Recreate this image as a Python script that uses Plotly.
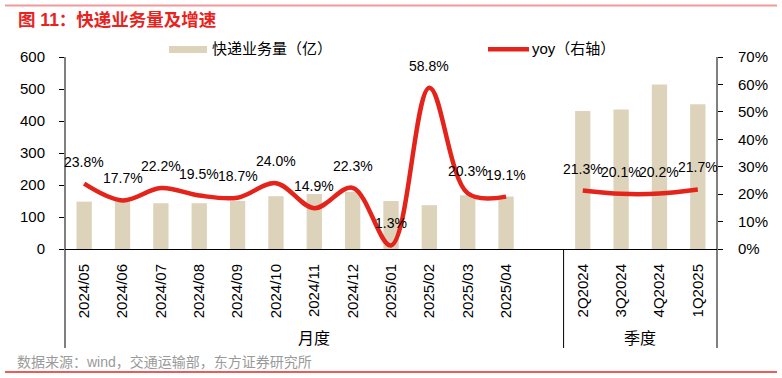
import plotly.graph_objects as go

# ---------------- data ----------------
months = ["2024/05", "2024/06", "2024/07", "2024/08", "2024/09", "2024/10",
          "2024/11", "2024/12", "2025/01", "2025/02", "2025/03", "2025/04"]
month_volume = [148, 149, 143, 143, 150, 165, 172, 179, 150, 137, 168, 164]
month_yoy = [23.8, 17.7, 22.2, 19.5, 18.7, 24.0, 14.9, 22.3, 1.3, 58.8, 20.3, 19.1]

quarters = ["2Q2024", "3Q2024", "4Q2024", "1Q2025"]
quarter_volume = [431, 436, 514, 452]
quarter_yoy = [21.3, 20.1, 20.2, 21.7]

left_ticks = [0, 100, 200, 300, 400, 500, 600]
right_ticks = [0, 10, 20, 30, 40, 50, 60, 70]
right_tick_labels = ["0%", "10%", "20%", "30%", "40%", "50%", "60%", "70%"]

title_text = "图 11：快递业务量及增速"
bar_name = "快递业务量（亿）"
line_name = "yoy（右轴）"
group_names = ["月度", "季度"]
source_text = "数据来源：wind，交通运输部，东方证券研究所"

# ---------------- layout constants ----------------
W, H = 782, 378
L, R, T, B = 65, 717, 57, 249
BAR_COLOR = "#ddd3bb"
LINE_COLOR = "#e4231b"
FONT = "Arial, 'Liberation Sans', 'Noto Sans CJK SC', sans-serif"


def px(x):
    return (x - L) / (R - L)


def py(y):
    return (B - y) / (B - T)


month_x = list(range(len(months)))
gap_x = len(months)
quarter_x = [gap_x + 1 + i for i in range(len(quarters))]
all_x = month_x + quarter_x
all_labels = months + quarters

fig = go.Figure()

fig.add_trace(go.Bar(x=month_x + quarter_x, y=month_volume + quarter_volume,
                     marker=dict(color=BAR_COLOR, line=dict(width=0)),
                     width=0.4, name=bar_name, showlegend=False, yaxis="y"))

for xs, ys in [(month_x, month_yoy), (quarter_x, quarter_yoy)]:
    fig.add_trace(go.Scatter(x=xs, y=ys, mode="lines", yaxis="y2",
                             line=dict(color=LINE_COLOR, width=4.5, shape="spline", smoothing=1),
                             name=line_name, showlegend=False))

annotations = []
for xs, ys in [(month_x, month_yoy), (quarter_x, quarter_yoy)]:
    for xv, yv in zip(xs, ys):
        annotations.append(dict(x=xv, y=yv, xref="x", yref="y2", yshift=22,
                                text=f"{yv:.1f}%", showarrow=False,
                                font=dict(size=14, color="black", family=FONT)))

# group labels
annotations.append(dict(x=(month_x[0] + gap_x) / 2, y=py(338), xref="x", yref="paper",
                        text=group_names[0], showarrow=False, yanchor="middle",
                        font=dict(size=16, color="black", family=FONT)))
annotations.append(dict(x=(quarter_x[0] + quarter_x[-1]) / 2, y=py(338), xref="x", yref="paper",
                        text=group_names[1], showarrow=False, yanchor="middle",
                        font=dict(size=16, color="black", family=FONT)))

# title and source
annotations.append(dict(x=px(16), y=py(19.5), xref="paper", yref="paper", xanchor="left",
                        yanchor="middle", text=f"<b>{title_text}</b>", showarrow=False,
                        font=dict(size=17.5, color="#e8231e", family=FONT)))
annotations.append(dict(x=px(15), y=py(361.5), xref="paper", yref="paper", xanchor="left",
                        yanchor="middle", text=source_text, showarrow=False,
                        font=dict(size=14, color="#9a9a9a", family=FONT)))

# legend texts
annotations.append(dict(x=px(210), y=py(49), xref="paper", yref="paper", xanchor="left",
                        yanchor="middle", text=bar_name, showarrow=False,
                        font=dict(size=15, color="black", family=FONT)))
annotations.append(dict(x=px(530), y=py(49), xref="paper", yref="paper", xanchor="left",
                        yanchor="middle", text=line_name, showarrow=False,
                        font=dict(size=15, color="black", family=FONT)))

shapes = [
    # legend swatches
    dict(type="rect", xref="paper", yref="paper", x0=px(169), x1=px(207), y0=py(53), y1=py(46),
         fillcolor=BAR_COLOR, line=dict(width=0)),
    dict(type="line", xref="paper", yref="paper", x0=px(488), x1=px(529), y0=py(49.3), y1=py(49.3),
         line=dict(color=LINE_COLOR, width=4.5)),
    # axis extensions / group separators
    dict(type="line", xref="paper", yref="paper", x0=0, x1=0, y0=py(348), y1=1,
         line=dict(color="black", width=1)),
    dict(type="line", xref="paper", yref="paper", x0=1, x1=1, y0=py(348), y1=1,
         line=dict(color="black", width=1)),
    dict(type="line", xref="x", yref="paper", x0=gap_x + 0.5, x1=gap_x + 0.5, y0=py(348), y1=0,
         line=dict(color="black", width=1)),
    # decorative red rules
    dict(type="line", xref="paper", yref="paper", x0=px(5), x1=px(777), y0=py(5.5), y1=py(5.5),
         line=dict(color="#f29a9a", width=2)),
    dict(type="line", xref="paper", yref="paper", x0=px(5), x1=px(777), y0=py(372), y1=py(372),
         line=dict(color="#e8231e", width=1.5)),
]

fig.update_layout(
    width=W, height=H,
    margin=dict(l=L, r=W - R, t=T, b=H - B, pad=0),
    paper_bgcolor="white", plot_bgcolor="white",
    font=dict(family=FONT, size=15, color="black"),
    showlegend=False,
    bargap=0.6,
    xaxis=dict(range=[-0.5, len(all_x) + 0.5], tickmode="array", tickvals=all_x,
               ticktext=all_labels, tickangle=-90, ticks="", showline=True,
               linecolor="black", linewidth=1, showgrid=False, zeroline=False,
               tickfont=dict(size=15, color="black"), ticklabelstandoff=8),
    yaxis=dict(range=[0, 600], tickmode="array", tickvals=left_ticks, ticks="outside",
               ticklen=5, tickcolor="black", showline=False, showgrid=False,
               zeroline=False, tickfont=dict(size=15, color="black"), ticklabelstandoff=11),
    yaxis2=dict(range=[0, 70], overlaying="y", side="right", tickmode="array",
                tickvals=right_ticks, ticktext=right_tick_labels, ticks="outside", ticklen=5,
                tickcolor="black", showline=False, showgrid=False, zeroline=False,
                tickfont=dict(size=15, color="black"), ticklabelstandoff=12),
    annotations=annotations,
    shapes=shapes,
)

fig.write_html("out.html", config={"displayModeBar": False},
               post_script="document.body.style.margin='0';document.body.style.overflow='hidden';")
